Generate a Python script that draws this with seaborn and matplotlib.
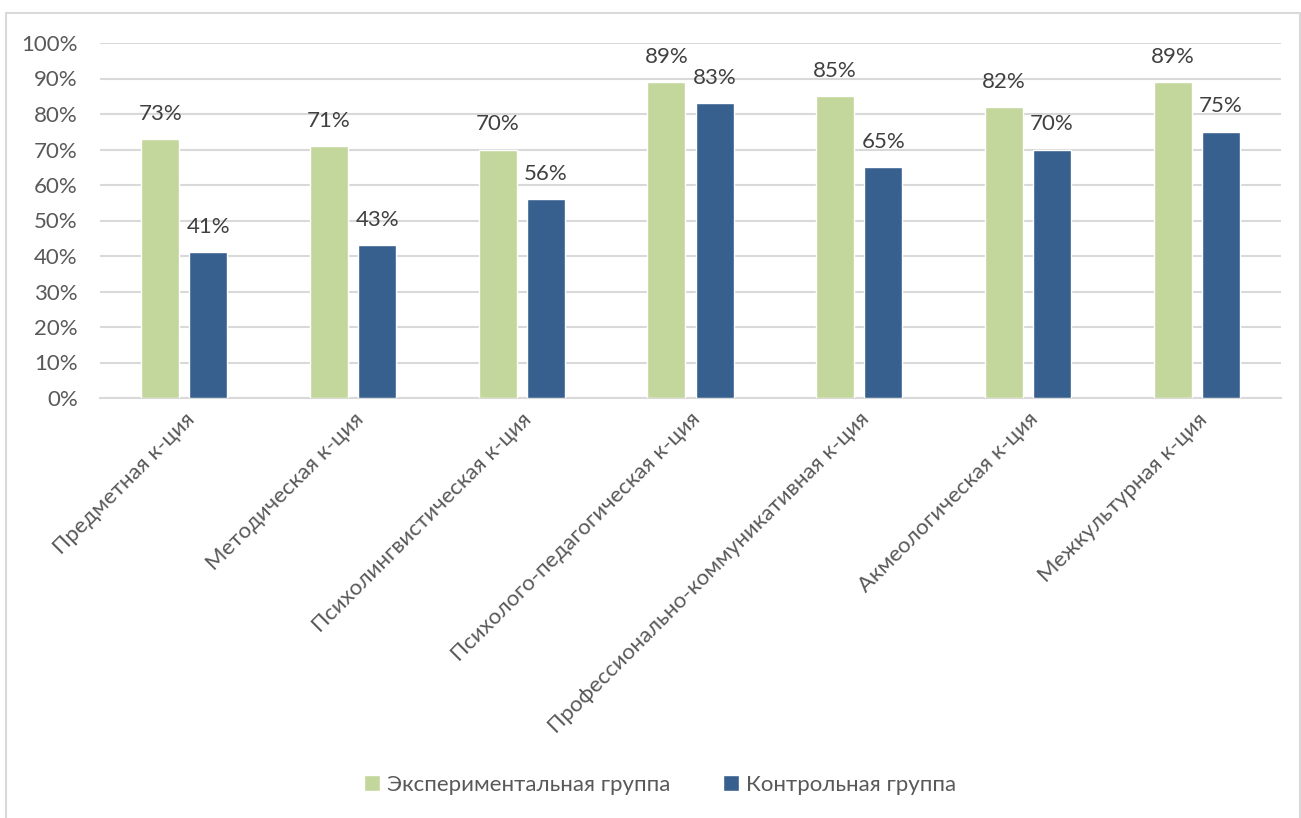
import pandas as pd
import matplotlib.pyplot as plt
import seaborn as sns
from matplotlib.patches import Rectangle
from matplotlib.ticker import PercentFormatter

sns.set_style("white")
plt.rcParams['font.family'] = ['Lato', 'DejaVu Sans']

# data
categories = ['Предметная к-ция', 'Методическая к-ция', 'Психолингвистическая к-ция',
              'Психолого-педагогическая к-ция', 'Профессионально-коммуникативная к-ция',
              'Акмеологическая к-ция', 'Межкультурная к-ция']
experimental = [0.73, 0.71, 0.70, 0.89, 0.85, 0.82, 0.89]
control = [0.41, 0.43, 0.56, 0.83, 0.65, 0.70, 0.75]
groups = ['Экспериментальная группа', 'Контрольная группа']
colors = ['#C3D69B', '#37608F']

df = pd.DataFrame({
    'category': categories * 2,
    'value': experimental + control,
    'group': [groups[0]] * len(categories) + [groups[1]] * len(categories),
})

fig = plt.figure(figsize=(13.01, 8.18), dpi=100)
ax = fig.add_axes([100 / 1301, 1 - 398 / 818, 1181 / 1301, 355 / 818])

# chart border like the office frame
fig.patches.append(Rectangle((6 / 1301, -0.01), 1294 / 1301, 1 - 13 / 818 + 0.01,
                             transform=fig.transFigure, fill=False,
                             edgecolor='#D9D9D9', linewidth=1.5))

sns.barplot(data=df, x='category', y='value', hue='group', palette=colors,
            saturation=1, width=0.57, gap=0.21, ax=ax, zorder=3)

for cont in ax.containers:
    ax.bar_label(cont, labels=[f'{v * 100:.0f}%' for v in cont.datavalues],
                 padding=11, fontsize=16, color='#404040')

ax.set_ylim(0, 1)
ax.set_xlim(-0.5, len(categories) - 0.5)
ax.set_yticks([i / 10 for i in range(11)])
ax.yaxis.set_major_formatter(PercentFormatter(1.0, decimals=0))
ax.yaxis.grid(True, color='#D9D9D9', linewidth=1.5, zorder=0)
ax.set_axisbelow(True)
for s in ['top', 'right', 'left']:
    ax.spines[s].set_visible(False)
ax.spines['bottom'].set_color('#D9D9D9')
ax.spines['bottom'].set_linewidth(1.5)
ax.tick_params(axis='both', length=0, labelsize=16, labelcolor='#595959')
ax.tick_params(axis='y', pad=16)
ax.tick_params(axis='x', pad=8)
plt.setp(ax.get_xticklabels(), rotation=45, ha='right', rotation_mode='anchor')
ax.set_xlabel('')
ax.set_ylabel('')

ax.legend(loc='center', bbox_to_anchor=(660 / 1301, 1 - 785 / 818),
          bbox_transform=fig.transFigure, ncol=2, frameon=False,
          fontsize=16, labelcolor='#595959', handlelength=0.7, handleheight=0.7,
          handletextpad=0.3, columnspacing=2.4)

fig.savefig('out.png', dpi=100)
